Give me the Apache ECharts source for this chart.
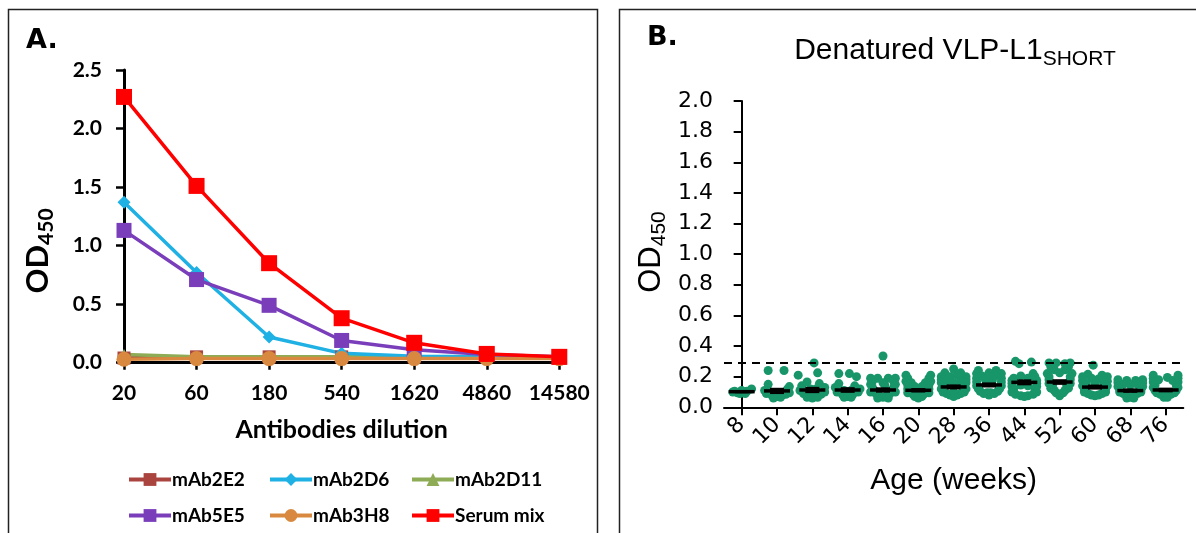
<!DOCTYPE html>
<html>
<head>
<meta charset="utf-8">
<script src="https://cdn.jsdelivr.net/npm/echarts@6/dist/echarts.min.js"></script>
<style>
  html, body { margin: 0; padding: 0; background: #fff; }
  #chart { width: 1196px; height: 533px; }
</style>
</head>
<body>
<div id="chart"></div>
<script>
// ---------- Panel A : antibody dilution curves ----------
var dilutions = ['20', '60', '180', '540', '1620', '4860', '14580'];
var mAb2E2   = [0.04, 0.05, 0.05, 0.05, 0.05, 0.05, 0.04];
var mAb2D6   = [1.37, 0.77, 0.22, 0.08, 0.055, 0.05, 0.05];
var mAb2D11  = [0.07, 0.05, 0.05, 0.05, 0.05, 0.05, 0.05];
var mAb5E5   = [1.13, 0.71, 0.49, 0.19, 0.11, 0.07, 0.05];
var mAb3H8   = [0.03, 0.035, 0.035, 0.035, 0.035, 0.035, 0.035];
var serumMix = [2.27, 1.51, 0.85, 0.38, 0.17, 0.075, 0.05];

// ---------- Panel B : OD450 by age, one dot per animal ----------
var ages    = ['8', '10', '12', '14', '16', '20', '28', '36', '44', '52', '60', '68', '76'];
var odMean  = [0.102, 0.107, 0.113, 0.113, 0.113, 0.111, 0.133, 0.146, 0.163, 0.165, 0.132, 0.109, 0.113];
var odSem   = [0.004, 0.014, 0.014, 0.012, 0.011, 0.008, 0.010, 0.010, 0.013, 0.012, 0.010, 0.008, 0.009];
var cutoff  = 0.29;
// [horizontal spread within the column, OD450]
var wk8  = [[-0.25,0.10],[-0.12,0.095],[0.02,0.10],[0.15,0.105],[0.28,0.12],[0.1,0.09],[-0.2,0.105],[0.0,0.11],[-0.05,0.09]];
var wk10 = [[-0.25,0.24],[0.2,0.24],[-0.25,0.15],[0.35,0.135],[0.3,0.12],[-0.35,0.11],[-0.3,0.09],[0.35,0.095],[-0.15,0.08],[0.15,0.08],[0,0.07],[-0.1,0.06],[0.1,0.065],[0.25,0.085],[-0.2,0.10],[0.0,0.09]];
var wk12 = [[0.05,0.29],[-0.4,0.21],[0.15,0.225],[-0.15,0.165],[0.2,0.155],[-0.3,0.14],[0.35,0.13],[-0.35,0.11],[0.35,0.10],[-0.25,0.09],[0.25,0.085],[-0.1,0.075],[0.1,0.075],[0,0.06],[-0.15,0.065],[0.15,0.065],[0.0,0.10],[-0.05,0.12],[0.1,0.12]];
var wk14 = [[-0.25,0.22],[0.05,0.22],[0.25,0.20],[-0.25,0.155],[0.2,0.14],[-0.35,0.13],[0.35,0.12],[-0.3,0.10],[0.3,0.10],[-0.15,0.085],[0.15,0.085],[0,0.07],[-0.1,0.065],[0.1,0.065],[0,0.09],[0.1,0.11],[-0.1,0.11]];
var wk16 = [[0.0,0.335],[-0.35,0.19],[-0.15,0.19],[0.15,0.19],[0.35,0.19],[-0.3,0.17],[0.3,0.17],[-0.35,0.15],[0.35,0.15],[-0.3,0.13],[0.3,0.13],[-0.25,0.11],[0.25,0.11],[-0.35,0.10],[0.35,0.10],[-0.2,0.09],[0.2,0.09],[-0.1,0.075],[0.1,0.075],[0,0.065],[-0.15,0.06],[0.15,0.06],[0,0.16],[0.05,0.145]];
var wk20 = [[-0.35,0.21],[0.35,0.21],[-0.3,0.19],[0.3,0.19],[-0.35,0.17],[0.35,0.17],[-0.2,0.16],[0.2,0.16],[-0.3,0.145],[0.3,0.145],[-0.1,0.135],[0.1,0.135],[-0.3,0.12],[0.3,0.12],[-0.2,0.10],[0.2,0.10],[-0.3,0.095],[0.3,0.095],[-0.15,0.085],[0.15,0.085],[0,0.075],[-0.1,0.07],[0.1,0.07],[0,0.06]];
var wk28 = [[0,0.25],[-0.25,0.225],[0.2,0.225],[-0.35,0.20],[0.35,0.20],[-0.1,0.20],[0.1,0.21],[-0.35,0.18],[0.35,0.18],[-0.2,0.17],[0.2,0.17],[-0.35,0.16],[0.35,0.16],[-0.3,0.14],[0.3,0.14],[-0.35,0.12],[0.35,0.12],[-0.3,0.10],[0.3,0.10],[-0.2,0.09],[0.2,0.09],[-0.1,0.08],[0.1,0.08],[0,0.07],[0,0.10],[0,0.16]];
var wk36 = [[-0.3,0.24],[0.2,0.24],[0.35,0.22],[-0.35,0.22],[0,0.225],[-0.2,0.205],[0.15,0.205],[-0.35,0.19],[0.35,0.19],[-0.1,0.18],[0.1,0.18],[-0.35,0.165],[0.35,0.165],[-0.35,0.14],[0.35,0.14],[-0.3,0.12],[0.3,0.12],[-0.25,0.105],[0.25,0.105],[-0.15,0.09],[0.15,0.09],[0,0.08],[-0.05,0.095],[0.05,0.095],[0,0.20],[0,0.16]];
var wk44 = [[-0.25,0.30],[0.2,0.295],[-0.15,0.285],[0.25,0.22],[-0.1,0.205],[0.3,0.20],[-0.3,0.19],[0.1,0.19],[-0.35,0.175],[0.35,0.175],[-0.35,0.155],[0.35,0.155],[-0.35,0.135],[0.35,0.135],[-0.3,0.12],[0.3,0.12],[-0.35,0.10],[0.35,0.10],[-0.25,0.085],[0.25,0.085],[-0.1,0.075],[0.1,0.075],[0,0.07],[-0.1,0.145],[0.1,0.14]];
var wk52 = [[-0.3,0.29],[0.3,0.29],[-0.1,0.29],[0.15,0.285],[-0.25,0.265],[0.25,0.265],[-0.15,0.245],[0.15,0.245],[0,0.225],[-0.35,0.22],[0.35,0.22],[-0.3,0.20],[0.3,0.20],[-0.3,0.18],[0.3,0.18],[-0.3,0.155],[0.3,0.155],[-0.2,0.14],[0.2,0.14],[-0.25,0.125],[0.25,0.125],[-0.15,0.11],[0.15,0.11],[-0.1,0.095],[0.1,0.095],[0,0.085],[0,0.075]];
var wk60 = [[-0.05,0.275],[-0.2,0.215],[0.2,0.21],[-0.35,0.20],[0.35,0.20],[-0.1,0.19],[0.1,0.185],[-0.35,0.175],[0.35,0.17],[-0.25,0.155],[0.25,0.155],[-0.35,0.14],[0.35,0.14],[-0.3,0.12],[0.3,0.12],[-0.3,0.10],[0.3,0.10],[-0.2,0.09],[0.2,0.09],[-0.1,0.08],[0.1,0.08],[0,0.075],[0,0.16]];
var wk68 = [[-0.35,0.18],[0.35,0.18],[-0.1,0.175],[0.15,0.175],[-0.35,0.16],[0.35,0.16],[-0.2,0.15],[0.2,0.15],[0,0.145],[-0.35,0.135],[0.35,0.135],[-0.3,0.115],[0.3,0.115],[-0.3,0.10],[0.3,0.10],[-0.2,0.09],[0.2,0.09],[-0.1,0.075],[0.1,0.075],[0,0.065],[-0.1,0.06],[0.1,0.06]];
var wk76 = [[-0.35,0.21],[0.35,0.21],[0.05,0.195],[-0.35,0.19],[0.35,0.19],[-0.2,0.18],[0.2,0.175],[-0.35,0.165],[0.35,0.165],[-0.3,0.145],[0.3,0.145],[-0.35,0.13],[0.35,0.13],[-0.3,0.11],[0.3,0.11],[-0.25,0.095],[0.25,0.095],[-0.15,0.085],[0.15,0.085],[0,0.075],[-0.05,0.065],[0.05,0.065]];
var groups = [wk8, wk10, wk12, wk14, wk16, wk20, wk28, wk36, wk44, wk52, wk60, wk68, wk76];

var BLACK = '#000';
var GREEN = '#18966a';
var fontA = 'Lato, "Open Sans", sans-serif';
var fontB = '"DejaVu Sans", sans-serif';
var fontT = '"Liberation Sans", Arial, sans-serif';

function one(v){ return v.toFixed(1); }

// scatter points: column index + spread
var dots = [];
groups.forEach(function(g, i){ g.forEach(function(p){ dots.push([i + p[0], p[1]]); }); });
var meanData = odMean.map(function(m, i){ return [i, m, odSem[i]]; });

function lineSeries(name, data, color, symbol, size){
  return {
    name: name, type: 'line', xAxisIndex: 0, yAxisIndex: 0, data: data,
    symbol: symbol, symbolSize: size, showSymbol: true,
    lineStyle: { color: color, width: 3.5 },
    itemStyle: { color: color, borderWidth: 0 },
    emphasis: { disabled: true }, animation: false
  };
}

function legendAt(name, left, top){
  return {
    data: [name], left: left, top: top, padding: 0, itemGap: 0,
    itemWidth: 42, itemHeight: 16, selectedMode: false,
    lineStyle: { width: 4 },
    textStyle: { fontFamily: fontA, fontWeight: 'bold', fontSize: 19, color: BLACK, padding: [0, 0, 0, -4] }
  };
}

var chart = echarts.init(document.getElementById('chart'), null, { renderer: 'canvas' });
chart.setOption({
  backgroundColor: '#fff',
  animation: false,
  grid: [
    { left: 124, top: 70, width: 435.3, height: 292.7, containLabel: false, outerBoundsMode: 'none' },
    { left: 724, top: 101, width: 459.3, height: 306.3, containLabel: false, outerBoundsMode: 'none' }
  ],
  legend: [
    legendAt('mAb2E2', 127, 470), legendAt('mAb2D6', 268, 470), legendAt('mAb2D11', 410, 470),
    legendAt('mAb5E5', 127, 506), legendAt('mAb3H8', 268, 506), legendAt('Serum mix', 410, 506)
  ],
  xAxis: [
    {
      gridIndex: 0, type: 'category', data: dilutions, boundaryGap: false,
      name: 'Antibodies dilution', nameLocation: 'middle', nameGap: 55,
      nameTextStyle: { fontFamily: fontA, fontWeight: 'bold', fontSize: 25, color: BLACK },
      axisLine: { show: true, onZero: false, lineStyle: { color: BLACK, width: 3 } },
      axisTick: { show: true, length: 7, lineStyle: { color: BLACK, width: 2.5 } },
      axisLabel: { color: BLACK, fontFamily: fontA, fontWeight: 'bold', fontSize: 21, margin: 20, interval: 0 },
      splitLine: { show: false }
    },
    {
      gridIndex: 1, type: 'category', data: ages, boundaryGap: true,
      name: 'Age (weeks)', nameLocation: 'middle', nameGap: 58,
      nameTextStyle: { fontFamily: fontT, fontSize: 30, color: BLACK },
      axisLine: { show: true, onZero: false, lineStyle: { color: BLACK, width: 2 } },
      axisTick: { show: true, alignWithLabel: true, length: 8, lineStyle: { color: BLACK, width: 2 } },
      axisLabel: { color: BLACK, fontFamily: fontB, fontSize: 22, rotate: 45, margin: 14, interval: 0 },
      splitLine: { show: false }
    },
    { gridIndex: 1, type: 'value', min: -0.5, max: 12.5, show: false }
  ],
  yAxis: [
    {
      gridIndex: 0, type: 'value', min: 0, max: 2.5, interval: 0.5,
      axisLine: { show: true, lineStyle: { color: BLACK, width: 3 } },
      axisTick: { show: true, length: 8, lineStyle: { color: BLACK, width: 2.5 } },
      axisLabel: { color: BLACK, fontFamily: fontA, fontWeight: 'bold', fontSize: 21, margin: 22, formatter: one },
      splitLine: { show: false }
    },
    {
      gridIndex: 1, type: 'value', min: 0, max: 2, interval: 0.2,
      axisLine: { show: true, lineStyle: { color: BLACK, width: 2 } },
      axisTick: { show: true, length: 8, lineStyle: { color: BLACK, width: 2 } },
      axisLabel: { color: BLACK, fontFamily: fontB, fontSize: 22, margin: 11, formatter: one },
      splitLine: { show: false }
    }
  ],
  series: [
    lineSeries('mAb2E2', mAb2E2, '#a9443f', 'rect', 13),
    lineSeries('mAb2D11', mAb2D11, '#8eac55', 'triangle', 11),
    lineSeries('mAb2D6', mAb2D6, '#1fb0e4', 'diamond', 13),
    lineSeries('mAb5E5', mAb5E5, '#7a3eba', 'rect', 15),
    lineSeries('mAb3H8', mAb3H8, '#d9893f', 'circle', 15),
    lineSeries('Serum mix', serumMix, '#ff0000', 'rect', 16),
    {
      name: 'dots', type: 'scatter', xAxisIndex: 2, yAxisIndex: 1, data: dots,
      symbol: 'circle', symbolSize: 9, itemStyle: { color: GREEN, opacity: 1 },
      emphasis: { disabled: true },
      markLine: {
        silent: true, symbol: 'none', label: { show: false },
        lineStyle: { color: BLACK, width: 2, type: [8, 6] },
        data: [{ yAxis: cutoff }]
      },
      z: 2
    },
    {
      name: 'mean', type: 'custom', xAxisIndex: 2, yAxisIndex: 1, data: meanData, z: 3,
      renderItem: function(params, api){
        var c  = api.coord([api.value(0), api.value(1)]);
        var hi = api.coord([api.value(0), api.value(1) + api.value(2)]);
        var lo = api.coord([api.value(0), api.value(1) - api.value(2)]);
        return { type: 'group', children: [
          { type: 'rect', shape: { x: c[0] - 7, y: hi[1] - 1, width: 14, height: lo[1] - hi[1] + 2 }, style: { fill: BLACK } },
          { type: 'line', shape: { x1: c[0] - 13, y1: c[1], x2: c[0] + 13, y2: c[1] }, style: { stroke: BLACK, lineWidth: 3.5 } }
        ]};
      }
    }
  ],
  graphic: [
    { type: 'rect', shape: { x: 8.5, y: 9.5, width: 589, height: 600 }, style: { fill: null, stroke: '#222', lineWidth: 1.5 }, silent: true },
    { type: 'rect', shape: { x: 619.5, y: 9.5, width: 620, height: 600 }, style: { fill: null, stroke: '#222', lineWidth: 1.5 }, silent: true },
    { type: 'text', x: 26, y: 41, style: { text: 'A.', font: 'bold 27px "DejaVu Sans", sans-serif', fill: BLACK, verticalAlign: 'middle' } },
    { type: 'text', x: 647, y: 38, style: { text: 'B.', font: 'bold 27px "DejaVu Sans", sans-serif', fill: BLACK, verticalAlign: 'middle' } },
    {
      type: 'text', x: 38, y: 251, rotation: Math.PI / 2,
      style: {
        text: '{a|OD}{b|450}', align: 'center', verticalAlign: 'middle',
        rich: {
          a: { fontFamily: fontA, fontWeight: 'bold', fontSize: 31, fill: BLACK, lineHeight: 38 },
          b: { fontFamily: fontA, fontWeight: 'bold', fontSize: 21, fill: BLACK, lineHeight: 20, verticalAlign: 'bottom' }
        }
      }
    },
    {
      type: 'text', x: 651, y: 252, rotation: Math.PI / 2,
      style: {
        text: '{a|OD}{b|450}', align: 'center', verticalAlign: 'middle',
        rich: {
          a: { fontFamily: fontT, fontSize: 31, fill: BLACK, lineHeight: 38 },
          b: { fontFamily: fontT, fontSize: 21, fill: BLACK, lineHeight: 20, verticalAlign: 'bottom' }
        }
      }
    },
    {
      type: 'text', x: 955, y: 51,
      style: {
        text: '{a|Denatured VLP-L1}{b|SHORT}', align: 'center', verticalAlign: 'middle',
        rich: {
          a: { fontFamily: fontT, fontSize: 30, fill: BLACK, lineHeight: 38 },
          b: { fontFamily: fontT, fontSize: 21, fill: BLACK, lineHeight: 20, verticalAlign: 'bottom' }
        }
      }
    }
  ]
});
</script>
</body>
</html>
